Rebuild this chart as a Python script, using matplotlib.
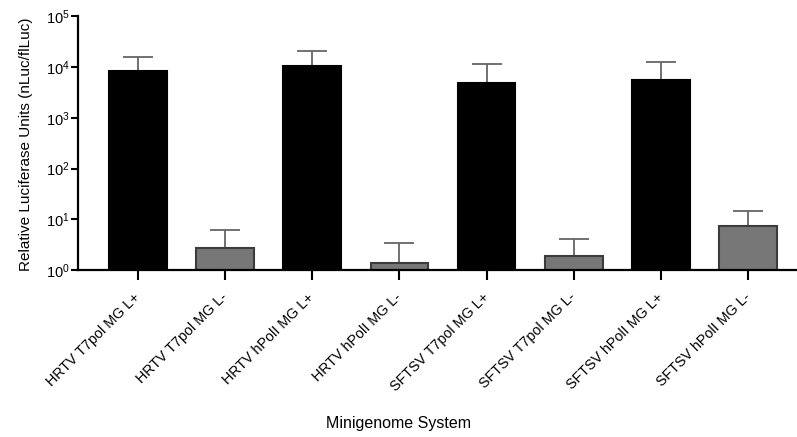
import matplotlib.pyplot as plt
import numpy as np

plt.rcParams['font.family'] = ['Liberation Sans', 'DejaVu Sans']

labels = ["HRTV T7pol MG L+", "HRTV T7pol MG L-", "HRTV hPolI MG L+", "HRTV hPolI MG L-",
          "SFTSV T7pol MG L+", "SFTSV T7pol MG L-", "SFTSV hPolI MG L+", "SFTSV hPolI MG L-"]
means = [8300, 2.75, 10400, 1.35, 4750, 1.9, 5650, 7.4]
upper = [15500, 6.1, 20500, 3.45, 11400, 4.1, 12300, 14.7]
polymerase = [True, False, True, False, True, False, True, False]

fig = plt.figure(figsize=(7.97, 4.37), dpi=100)
ax = fig.add_axes([0.098, 0.382, 0.902, 0.581])

x = np.arange(len(labels))
err = np.array(upper) - np.array(means)
for xi, m, e, lp in zip(x, means, err, polymerase):
    face = 'black' if lp else '#777777'
    edge = 'black' if lp else '#3c3c3c'
    ax.bar(xi, m, width=0.66, color=face, edgecolor=edge, linewidth=1.5, zorder=2)
    ax.errorbar(xi, m, yerr=[[0], [e]], fmt='none', ecolor='#666666',
                elinewidth=1.3, capsize=10.5, capthick=1.3, zorder=1)

ax.set_yscale('log')
ax.set_ylim(1, 1e5)
ax.set_xlim(-0.684, 7.56)
ax.set_yticks([1, 10, 100, 1000, 1e4, 1e5])
ax.minorticks_off()

ax.set_xticks(x)
ax.set_xticklabels(labels, rotation=45, ha='right', va='center', rotation_mode='anchor', fontsize=10.3)
ax.tick_params(axis='x', length=7, width=1.5, pad=11)
ax.tick_params(axis='y', length=5, width=1.5, pad=1, labelsize=10.5)

for side in ['top', 'right']:
    ax.spines[side].set_visible(False)
for side in ['left', 'bottom']:
    ax.spines[side].set_linewidth(1.6)

ax.set_ylabel("Relative Luciferase Units (nLuc/flLuc)", fontsize=11)
ax.yaxis.set_label_coords(-0.063, 0.495)
ax.set_xlabel("Minigenome System", fontsize=11.5)
ax.xaxis.set_label_coords(0.445, -0.575)

plt.savefig("out.png", dpi=100)
